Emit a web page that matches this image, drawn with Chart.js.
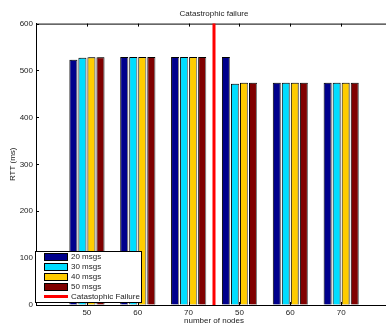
<!DOCTYPE html>
<html>
<head>
<meta charset="utf-8">
<script src="https://cdn.jsdelivr.net/npm/chart.js@4.4.1/dist/chart.umd.min.js"></script>
<style>
	html, body { margin: 0; padding: 0; background: #fff; overflow: hidden; }
	#wrap { width: 400px; height: 326px; position: relative; }
</style>
</head>
<body>
<div id="wrap"><canvas id="chart"></canvas></div>
<script>
/* data */
let nodeLabels = ['50', '60', '70', '50', '60', '70'];
let msgs20 = [523, 529, 529, 529, 474, 474];
let msgs30 = [527, 529, 529, 472, 474, 474];
let msgs40 = [528, 529, 529, 474, 474, 474];
let msgs50 = [528, 529, 529, 474, 474, 474];
let yTicks = [0, 100, 200, 300, 400, 500, 600];
let failureAt = 3.5; // between 70 and the second 50
let failureLabel = 'Catastophic Failure';

let seriesNames = ['20 msgs', '30 msgs', '40 msgs', '50 msgs'];
let seriesColors = ['#00008c', '#00ddff', '#ffcc00', '#800000'];

/* one empty slot on each side, like the matlab axis */
function pad(arr, v) {
	return [v].concat(arr).concat([v]);
}

var labels = pad(nodeLabels, '');
var series = [msgs20, msgs30, msgs40, msgs50];
var datasets = [];
for (var i = 0; i < series.length; i++) {
	datasets.push({
		label: seriesNames[i],
		data: pad(series[i], null),
		backgroundColor: seriesColors[i],
		borderColor: '#000',
		borderWidth: 1,
		categoryPercentage: 0.71,
		barPercentage: 0.88
	});
}

var textColor = '#222';
var font8 = { family: 'Liberation Sans, Arial, sans-serif', size: 8 };

var matlabAxes = {
	id: 'matlabAxes',
	beforeDatasetsDraw: function(chart) {
		var ctx = chart.ctx;
		ctx.save();
		ctx.shadowColor = '#888';
		ctx.shadowOffsetX = 1.5;
		ctx.shadowBlur = 0;
	},
	afterDatasetsDraw: function(chart) {
		chart.ctx.restore();
	},
	afterDraw: function(chart) {
		var ctx = chart.ctx;
		var area = chart.chartArea;
		var x = chart.scales.x;
		var y = chart.scales.y;

		ctx.save();
		ctx.strokeStyle = '#000';
		ctx.lineWidth = 1;

		// top box line
		ctx.beginPath();
		ctx.moveTo(area.left, area.top + 0.5);
		ctx.lineTo(area.right, area.top + 0.5);
		ctx.stroke();

		// inward ticks
		ctx.beginPath();
		for (var i = 0; i < labels.length; i++) {
			if (labels[i] === '') continue;
			var px = Math.round(x.getPixelForValue(i)) + 0.5;
			ctx.moveTo(px, area.bottom);
			ctx.lineTo(px, area.bottom - 3);
			ctx.moveTo(px, area.top);
			ctx.lineTo(px, area.top + 3);
		}
		for (var j = 0; j < yTicks.length; j++) {
			var py = Math.round(y.getPixelForValue(yTicks[j])) + 0.5;
			ctx.moveTo(area.left, py);
			ctx.lineTo(area.left + 3, py);
		}
		ctx.stroke();

		// failure line
		var fx = x.getPixelForValue(failureAt);
		ctx.strokeStyle = '#ff0000';
		ctx.lineWidth = 3;
		ctx.beginPath();
		ctx.moveTo(fx, area.top);
		ctx.lineTo(fx, area.bottom);
		ctx.stroke();

		// legend box
		var lx = area.left - 1;
		var ly = area.bottom - 54;
		var lw = 106;
		var lh = 51;
		ctx.fillStyle = '#fff';
		ctx.fillRect(lx, ly, lw, lh);
		ctx.strokeStyle = '#000';
		ctx.lineWidth = 1;
		ctx.strokeRect(lx + 0.5, ly + 0.5, lw, lh);

		ctx.font = '8px Liberation Sans, Arial, sans-serif';
		ctx.textBaseline = 'middle';
		ctx.textAlign = 'left';
		var rowY = ly + 5.5;
		for (var k = 0; k < chart.data.datasets.length; k++) {
			var ds = chart.data.datasets[k];
			ctx.fillStyle = ds.backgroundColor;
			ctx.fillRect(lx + 9, rowY - 3.5, 24, 7);
			ctx.strokeStyle = '#000';
			ctx.strokeRect(lx + 9.5, rowY - 3, 23, 7);
			ctx.fillStyle = textColor;
			ctx.fillText(ds.label, lx + 36, rowY + 0.5);
			rowY += 10;
		}
		ctx.strokeStyle = '#ff0000';
		ctx.lineWidth = 3;
		ctx.beginPath();
		ctx.moveTo(lx + 9, rowY);
		ctx.lineTo(lx + 33, rowY);
		ctx.stroke();
		ctx.fillStyle = textColor;
		ctx.fillText(failureLabel, lx + 36, rowY + 0.5);

		ctx.restore();
	}
};

var ctx = document.getElementById('chart');
new Chart(ctx, {
	type: 'bar',
	data: {
		labels: labels,
		datasets: datasets
	},
	options: {
		responsive: true,
		maintainAspectRatio: false,
		animation: false,
		layout: {
			padding: { left: 0, right: 8, top: 0, bottom: 0 }
		},
		plugins: {
			legend: { display: false },
			tooltip: { enabled: false },
			title: {
				display: true,
				fullSize: false,
				text: 'Catastrophic failure',
				color: textColor,
				font: { family: font8.family, size: 8, weight: 'normal' },
				padding: { top: 9, bottom: 5 }
			}
		},
		scales: {
			x: {
				type: 'category',
				offset: false,
				grid: { display: true, drawOnChartArea: false, drawTicks: false },
				border: { display: true, color: '#000', width: 1 },
				ticks: { color: textColor, font: font8, padding: 3, autoSkip: false, maxRotation: 0 },
				title: {
					display: true,
					text: 'number of nodes',
					color: textColor,
					font: font8,
					padding: { top: 0, bottom: 0 }
				},
				afterFit: function(scale) { scale.height = 21; }
			},
			y: {
				min: 0,
				max: 600,
				grid: { display: true, drawOnChartArea: false, drawTicks: false },
				border: { display: true, color: '#000', width: 1 },
				ticks: { color: textColor, font: font8, padding: 3, stepSize: 100 },
				title: {
					display: true,
					text: 'RTT (ms)',
					color: textColor,
					font: font8,
					padding: { top: 8, bottom: 0 }
				},
				afterFit: function(scale) { scale.width = 36; }
			}
		}
	},
	plugins: [matlabAxes]
});
</script>
</body>
</html>
